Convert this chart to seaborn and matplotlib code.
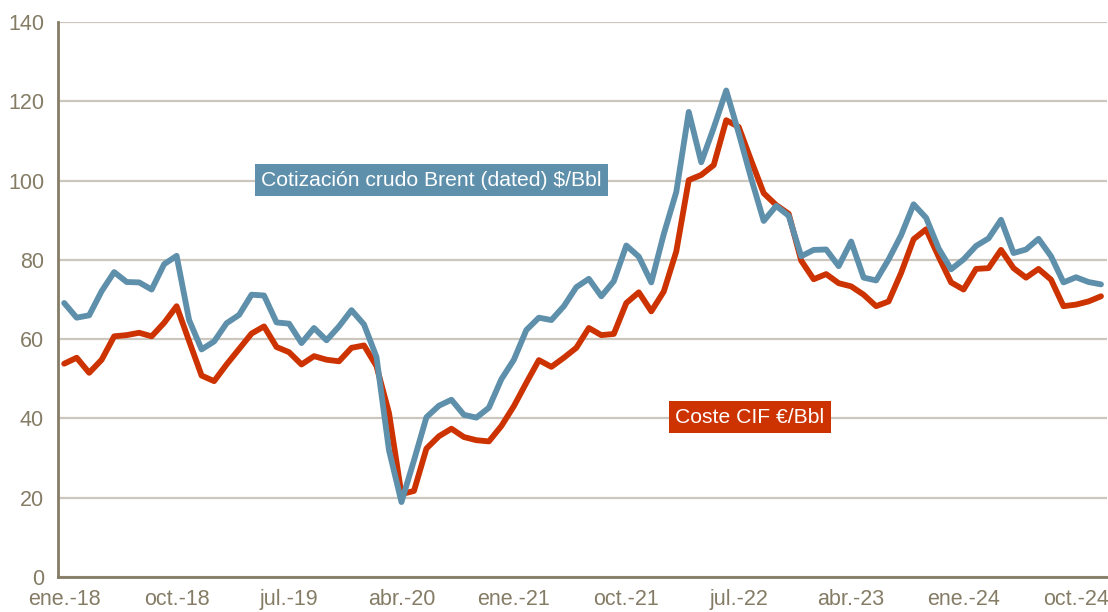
# Brent crude vs CIF cost, monthly 2018-2024
import pandas as pd
import matplotlib.pyplot as plt
import seaborn as sns

# month labels for the x axis (one tick every 9 months)
tick_labels = ["ene.-18", "oct.-18", "jul.-19", "abr.-20", "ene.-21",
               "oct.-21", "jul.-22", "abr.-23", "ene.-24", "oct.-24"]

# Cotización crudo Brent (dated) $/Bbl, ene.-18 .. dic.-24
brent = [69.1, 65.4, 66.0, 72.1, 76.9, 74.4, 74.3, 72.5, 78.9, 81.0, 64.8, 57.4,
         59.4, 64.0, 66.1, 71.2, 71.0, 64.2, 63.9, 59.0, 62.8, 59.7, 63.2, 67.3,
         63.7, 55.5, 32.0, 18.9, 29.4, 40.3, 43.2, 44.7, 40.9, 40.2, 42.7, 49.9,
         54.8, 62.3, 65.4, 64.8, 68.3, 73.1, 75.2, 70.8, 74.6, 83.6, 80.8, 74.3,
         86.5, 97.1, 117.3, 104.6, 113.3, 122.7, 111.9, 100.5, 89.8, 93.6, 91.1, 80.9,
         82.5, 82.6, 78.4, 84.6, 75.5, 74.8, 80.1, 86.2, 94.0, 90.6, 82.9, 77.6,
         80.1, 83.5, 85.4, 90.1, 81.7, 82.6, 85.3, 80.9, 74.3, 75.6, 74.4, 73.8]

# Coste CIF €/Bbl, ene.-18 .. dic.-24
cif = [53.8, 55.3, 51.5, 54.8, 60.7, 61.0, 61.6, 60.7, 64.1, 68.3, 59.5, 50.8,
       49.4, 53.6, 57.5, 61.4, 63.2, 58.0, 56.7, 53.6, 55.7, 54.8, 54.4, 57.8,
       58.4, 53.2, 41.4, 20.9, 21.7, 32.4, 35.5, 37.4, 35.3, 34.5, 34.2, 38.1,
       43.1, 49.0, 54.7, 53.0, 55.3, 57.8, 62.8, 61.0, 61.3, 69.1, 71.8, 67.0,
       72.0, 82.1, 100.1, 101.4, 103.9, 115.2, 113.5, 105.0, 96.8, 93.8, 91.6, 79.8,
       75.1, 76.4, 74.1, 73.3, 71.2, 68.3, 69.5, 76.7, 85.2, 87.7, 80.8, 74.3,
       72.5, 77.7, 77.9, 82.5, 77.9, 75.5, 77.7, 75.0, 68.3, 68.7, 69.5, 70.8]

df = pd.DataFrame({"mes": range(len(brent)), "brent": brent, "cif": cif})

blue = "#5e8fab"
red = "#cc3300"
axis_col = "#857c66"
grid_col = "#cbc7bf"

sns.set_style("white")
plt.rcParams['font.family'] = ['Liberation Sans', 'DejaVu Sans']

fig = plt.figure(figsize=(11.08, 6.12), dpi=100)
ax = fig.add_axes([0.0523, 0.0572, 0.947, 0.907])

sns.lineplot(data=df, x="mes", y="brent", color=blue, linewidth=4.2, ax=ax, zorder=3)
sns.lineplot(data=df, x="mes", y="cif", color=red, linewidth=4.2, ax=ax, zorder=2)

ax.set_xlim(-0.5, len(brent) - 0.5)
ax.set_ylim(0, 140)
ax.set_yticks(range(0, 141, 20))
ax.set_xticks(range(0, len(brent), 9))
ax.set_xticklabels(tick_labels)
ax.set_xlabel("")
ax.set_ylabel("")

# horizontal grid only
ax.yaxis.grid(True, color=grid_col, linewidth=1.6)
ax.set_axisbelow(True)

for side in ["top", "right"]:
    ax.spines[side].set_visible(False)
for side in ["left", "bottom"]:
    ax.spines[side].set_color(axis_col)
    ax.spines[side].set_linewidth(2)
    ax.spines[side].set_zorder(4)

ax.tick_params(axis="both", length=0, labelsize=15.5, labelcolor=axis_col)
ax.tick_params(axis="x", pad=9)
ax.tick_params(axis="y", pad=10)

# series labels in coloured boxes
ax.text(29.4, 100.1, "Cotización crudo Brent (dated) $/Bbl", color="white",
        fontsize=15.2, ha="center", va="center", zorder=5,
        bbox=dict(boxstyle="square,pad=0.3", facecolor=blue, edgecolor="none"))
ax.text(54.9, 40.3, "Coste CIF €/Bbl", color="white",
        fontsize=15.2, ha="center", va="center", zorder=5,
        bbox=dict(boxstyle="square,pad=0.3", facecolor=red, edgecolor="none"))

plt.savefig("out.png", dpi=100)
